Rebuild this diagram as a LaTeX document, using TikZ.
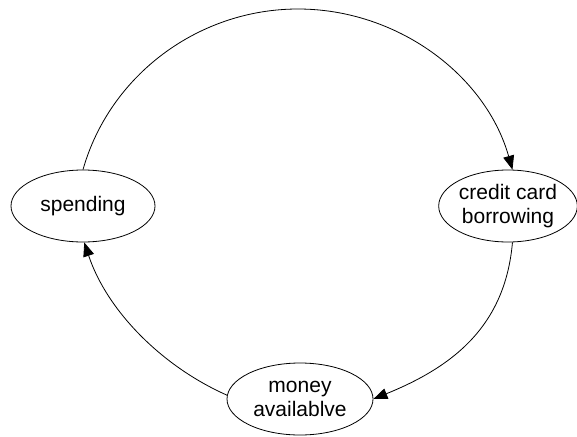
\documentclass[tikz,border=0pt]{standalone}
\usepackage{fontspec}
\setmainfont{Liberation Sans}
\usetikzlibrary{shapes.geometric,arrows.meta}
\begin{document}
\begin{tikzpicture}[x=1pt,y=-1pt,
  state/.style={draw,ellipse,line width=0.8pt,inner sep=0pt,minimum height=72pt,
    align=center,font=\fontsize{21}{24}\selectfont},
  arr/.style={line width=0.8pt,-{Triangle[length=14pt,width=11pt]}}]
\useasboundingbox (0,0) rectangle (577,436);
\node[state,minimum width=144pt] (sp) at (83,206) {spending};
\node[state,minimum width=137pt] (cc) at (508,206) {credit card\\borrowing};
\node[state,minimum width=146pt] (ma) at (300,399) {money\\availablve};
\coordinate (apex) at (298,9);
\draw[arr] (sp.north) .. controls +(27,-95) and +(-99,0) .. (apex)
  .. controls +(99,0) and +(-27,-95) .. (cc.83.5);
\draw[arr] (cc.-83.5) .. controls +(-7.4,84.7) and +(78.7,-32) .. (ma.east);
\draw[arr] (ma.177) .. controls +(-65.5,-29) and +(22.6,68) .. (sp.-88);
\end{tikzpicture}
\end{document}
